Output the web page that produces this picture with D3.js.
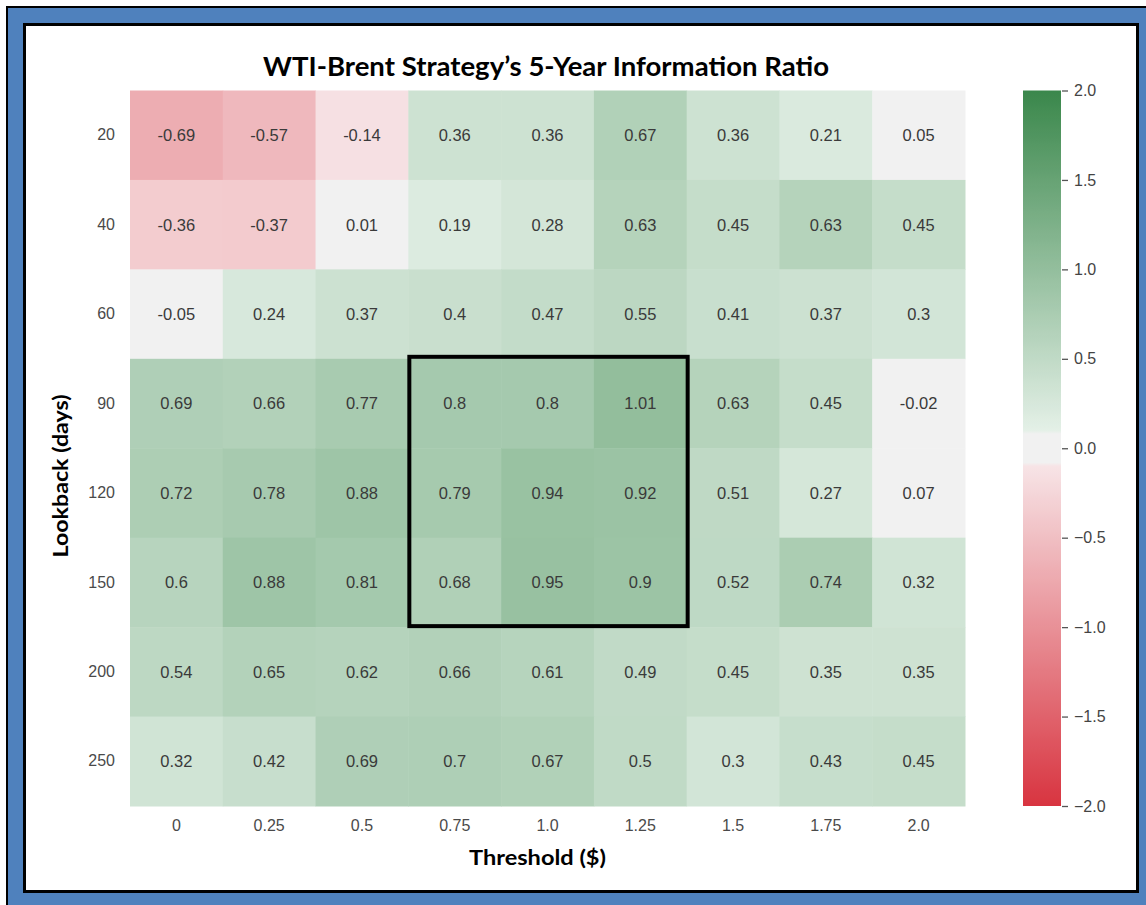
<!DOCTYPE html>
<html><head><meta charset="utf-8">
<script src="https://cdn.jsdelivr.net/npm/d3@7"></script>
<style>body{margin:0;background:#fff;}svg{display:block;}</style>
</head><body>
<svg id="chart" width="1146" height="905"></svg>
<script>
const thresholds = ["0","0.25","0.5","0.75","1.0","1.25","1.5","1.75","2.0"];
const lookbacks = ["20","40","60","90","120","150","200","250"];
const ratios = [
  [-0.69,-0.57,-0.14,0.36,0.36,0.67,0.36,0.21,0.05],
  [-0.36,-0.37,0.01,0.19,0.28,0.63,0.45,0.63,0.45],
  [-0.05,0.24,0.37,0.4,0.47,0.55,0.41,0.37,0.3],
  [0.69,0.66,0.77,0.8,0.8,1.01,0.63,0.45,-0.02],
  [0.72,0.78,0.88,0.79,0.94,0.92,0.51,0.27,0.07],
  [0.6,0.88,0.81,0.68,0.95,0.9,0.52,0.74,0.32],
  [0.54,0.65,0.62,0.66,0.61,0.49,0.45,0.35,0.35],
  [0.32,0.42,0.69,0.7,0.67,0.5,0.3,0.43,0.45]
];
const colorbarTicks = [2.0,1.5,1.0,0.5,0.0,-0.5,-1.0,-1.5,-2.0];
const highlightCols = ["0.75","1.25"];
const highlightRows = ["90","150"];

const svg = d3.select("#chart");
// frame
svg.append("rect").attr("x",7).attr("y",7).attr("width",1146).attr("height",905)
  .attr("fill","#4f81bd").attr("stroke","#000").attr("stroke-width",2);
svg.append("rect").attr("x",24.5).attr("y",24.5).attr("width",1113).attr("height",867)
  .attr("fill","#fff").attr("stroke","#000").attr("stroke-width",3);

const L=130, R=965, T=90.5, B=806;
const x = d3.scaleBand().domain(thresholds).range([L,R]);
const y = d3.scaleBand().domain(lookbacks).range([T,B]);

const color = d3.scaleLinear()
  .domain([-2,-0.1,-0.1,0.1,0.1,2])
  .range(["rgb(216,52,64)","rgb(247,228,230)","rgb(241,241,241)","rgb(241,241,241)","rgb(228,240,231)","rgb(58,135,75)"])
  .clamp(true);
function col(v){ if(Math.abs(v)<0.1) return "rgb(241,241,241)"; return color(v); }

const cells = [];
ratios.forEach((row,i)=>row.forEach((v,j)=>cells.push({lb:lookbacks[i],th:thresholds[j],v})));

svg.append("g").selectAll("rect").data(cells).join("rect")
  .attr("x",d=>x(d.th)).attr("y",d=>y(d.lb))
  .attr("width",x.bandwidth()+0.5).attr("height",y.bandwidth()+0.5)
  .attr("fill",d=>col(d.v));

svg.append("g").selectAll("text").data(cells).join("text")
  .attr("x",d=>x(d.th)+x.bandwidth()/2).attr("y",d=>y(d.lb)+y.bandwidth()/2)
  .attr("dy","0.36em").attr("text-anchor","middle")
  .style("font-family","'Liberation Sans', Arial, sans-serif").style("font-size","16.5px")
  .attr("fill","#3a3a3a").text(d=>String(d.v));

// highlight box
const hx0 = x(highlightCols[0]), hx1 = x(highlightCols[1])+x.bandwidth();
const hy0 = y(highlightRows[0]), hy1 = y(highlightRows[1])+y.bandwidth();
svg.append("rect").attr("x",hx0+1).attr("y",hy0-2).attr("width",hx1-hx0).attr("height",hy1-hy0+1)
  .attr("fill","none").attr("stroke","#000").attr("stroke-width",4);

// axes
const xAxis = svg.append("g").attr("transform",`translate(0,${B})`)
  .call(d3.axisBottom(x).tickSize(0).tickPadding(14));
const yAxis = svg.append("g").attr("transform",`translate(${L},0)`)
  .call(d3.axisLeft(y).tickSize(0).tickPadding(15));
[xAxis,yAxis].forEach(a=>{
  a.select(".domain").remove();
  a.selectAll("text").style("font-family","'Liberation Sans', Arial, sans-serif")
    .style("font-size","16px").attr("fill","#4a4a4a");
});

// colorbar
const cbX=1023, cbW=38;
const cy = d3.scaleLinear().domain([-2,2]).range([B,T]);
const defs = svg.append("defs");
const grad = defs.append("linearGradient").attr("id","cbgrad")
  .attr("x1","0").attr("y1","1").attr("x2","0").attr("y2","0");
d3.range(0,201).forEach(k=>{
  const v = -2 + 4*k/200;
  grad.append("stop").attr("offset",(k/200)).attr("stop-color",col(v));
});
svg.append("rect").attr("x",cbX).attr("y",T).attr("width",cbW).attr("height",B-T)
  .attr("fill","url(#cbgrad)");
const cAxis = svg.append("g").attr("transform",`translate(${cbX+cbW+1},0)`)
  .call(d3.axisRight(cy).tickValues(colorbarTicks).tickSize(6).tickPadding(6)
    .tickFormat(d=>d3.format(".1f")(d).replace("-","\u2212")));
cAxis.select(".domain").remove();
cAxis.selectAll("line").attr("stroke","#555").attr("stroke-width",1.3);
cAxis.selectAll("text").style("font-family","'Liberation Sans', Arial, sans-serif")
  .style("font-size","16px").attr("fill","#444");

// titles
const title = svg.append("text").attr("x",546).attr("y",76).attr("text-anchor","middle")
  .attr("font-family","Lato, 'Open Sans', sans-serif").attr("font-weight","bold")
  .attr("font-size","27px").attr("fill","#000")
  .attr("textLength",566).attr("lengthAdjust","spacingAndGlyphs")
  .text("WTI-Brent Strategy\u2019s 5-Year Information Ratio");
const xt = svg.append("text").attr("x",537.5).attr("y",865).attr("text-anchor","middle")
  .attr("font-family","Lato, 'Open Sans', sans-serif").attr("font-weight","bold")
  .attr("font-size","21px").attr("fill","#000")
  .attr("textLength",137).attr("lengthAdjust","spacingAndGlyphs").text("Threshold ($)");
const yt = svg.append("text").attr("transform","translate(68,476) rotate(-90)").attr("text-anchor","middle")
  .attr("font-family","Lato, 'Open Sans', sans-serif").attr("font-weight","bold")
  .attr("font-size","21px").attr("fill","#000")
  .attr("textLength",163).attr("lengthAdjust","spacingAndGlyphs").text("Lookback (days)");
</script>
</body></html>
